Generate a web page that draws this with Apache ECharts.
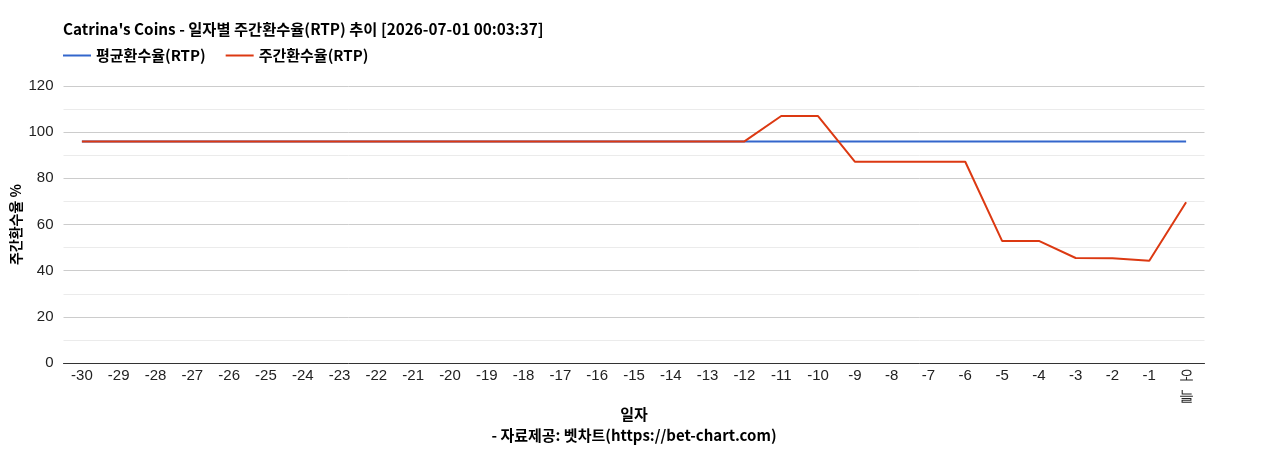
<!DOCTYPE html>
<html>
<head>
<meta charset="utf-8">
<script src="https://cdn.jsdelivr.net/npm/echarts@6/dist/echarts.min.js"></script>
<style>
  html, body { margin: 0; padding: 0; background: #fff; }
  #chart { width: 1268px; height: 450px; }
</style>
</head>
<body>
<div id="chart"></div>
<script>
// 일자 (x축)
const days = ["-30", "-29", "-28", "-27", "-26", "-25", "-24", "-23", "-22", "-21",
  "-20", "-19", "-18", "-17", "-16", "-15", "-14", "-13", "-12", "-11",
  "-10", "-9", "-8", "-7", "-6", "-5", "-4", "-3", "-2", "-1", "오늘"];

// 평균환수율(RTP)
const avgRtp = [96, 96, 96, 96, 96, 96, 96, 96, 96, 96,
  96, 96, 96, 96, 96, 96, 96, 96, 96, 96,
  96, 96, 96, 96, 96, 96, 96, 96, 96, 96, 96];

// 주간환수율(RTP)
const weeklyRtp = [96, 96, 96, 96, 96, 96, 96, 96, 96, 96,
  96, 96, 96, 96, 96, 96, 96, 96, 96, 107,
  107, 87.2, 87.2, 87.2, 87.2, 52.9, 52.9, 45.5, 45.4, 44.3, 69.6];

const yTicks = [0, 20, 40, 60, 80, 100, 120];

const font = "'Noto Sans CJK KR', sans-serif";
const tickFont = "'Liberation Sans', Arial, sans-serif";

const chart = echarts.init(document.getElementById("chart"));

const option = {
  animation: false,
  title: [
    {
      text: "Catrina's Coins - 일자별 주간환수율(RTP) 추이 [2026-07-01 00:03:37]",
      left: 58,
      top: 17,
      textStyle: { fontFamily: font, fontSize: 15.3, fontWeight: "bold", color: "#000" }
    },
    {
      text: "- 자료제공: 벳차트(https://bet-chart.com)",
      left: "center",
      top: 423,
      textStyle: { fontFamily: font, fontSize: 15, fontWeight: "bold", color: "#000" }
    }
  ],
  legend: {
    left: 58,
    top: 43,
    icon: "rect",
    itemWidth: 28,
    itemHeight: 2,
    itemGap: 20,
    textStyle: { fontFamily: font, fontSize: 15, fontWeight: "bold", color: "#000" },
    data: ["평균환수율(RTP)", "주간환수율(RTP)"]
  },
  grid: { left: 63.5, right: 63.5, top: 86, bottom: 87, outerBoundsMode: "none" },
  xAxis: {
    type: "category",
    data: days,
    boundaryGap: true,
    name: "일자",
    nameLocation: "middle",
    nameGap: 44,
    nameMoveOverlap: false,
    nameTextStyle: { fontFamily: font, fontSize: 15, fontWeight: "bold", color: "#000" },
    axisLine: { lineStyle: { color: "#333", width: 1 } },
    axisTick: { show: false },
    axisLabel: {
      interval: 0,
      margin: 2,
      fontFamily: tickFont,
      fontSize: 15,
      color: "#222",
      lineHeight: 21,
      formatter: v => (v === "오늘" ? "오\n늘" : v)
    }
  },
  yAxis: {
    type: "value",
    min: yTicks[0],
    max: yTicks[yTicks.length - 1],
    interval: 20,
    name: "주간환수율 %",
    nameLocation: "middle",
    nameGap: 41,
    nameRotate: 90,
    nameMoveOverlap: false,
    nameTextStyle: { fontFamily: font, fontSize: 14, fontWeight: "bold", color: "#000" },
    axisLine: { show: false },
    axisTick: { show: false },
    axisLabel: { fontFamily: tickFont, fontSize: 15, color: "#222", margin: 10 },
    splitLine: { lineStyle: { color: "#cccccc", width: 1 } },
    minorTick: { show: false, splitNumber: 2 },
    minorSplitLine: { show: true, lineStyle: { color: "#ebebeb", width: 1 } }
  },
  series: [
    {
      name: "평균환수율(RTP)",
      type: "line",
      data: avgRtp,
      symbol: "none",
      z: 2,
      itemStyle: { color: "#3366cc" },
      lineStyle: { color: "#3366cc", width: 2 }
    },
    {
      name: "주간환수율(RTP)",
      type: "line",
      data: weeklyRtp,
      symbol: "none",
      z: 3,
      itemStyle: { color: "#dc3912" },
      lineStyle: { color: "#dc3912", width: 2 }
    }
  ]
};

chart.setOption(option);
</script>
</body>
</html>
